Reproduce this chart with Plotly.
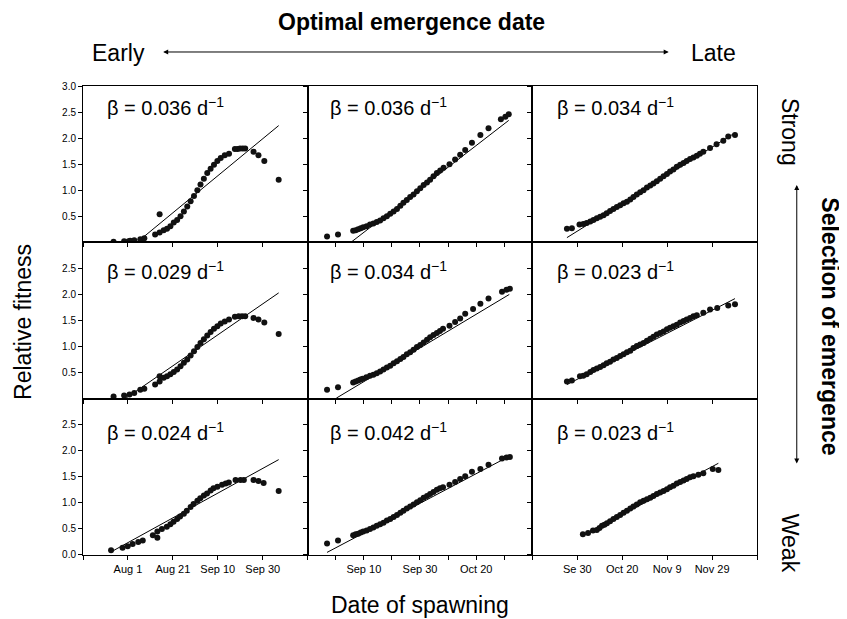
import plotly.graph_objects as go
from plotly.subplots import make_subplots

# x values are day of year (Jul 12 = 193, Aug 1 = 213, ... Dec 19 = 353)
# Row 1 = strong selection, row 3 = weak; col 1 = early, col 3 = late optimum

# ---- Early / Strong ----
x_es = [206.6, 211.3, 213.3, 214.0, 215.8, 218.5, 220.3, 225.1, 227.1, 227.1, 228.9, 230.4,
        231.9, 233.4, 234.9, 236.4, 237.9, 239.4, 240.9, 242.4, 243.9, 245.3, 246.8, 248.3,
        249.8, 251.3, 252.8, 254.3, 256.1, 258.0, 260.6, 261.8, 262.9, 264.1, 265.2,
        268.9, 271.1, 273.7, 280.1]
y_es = [0.01, 0.02, 0.02, 0.03, 0.04, 0.06, 0.08, 0.15, 0.54, 0.19, 0.23, 0.26,
        0.31, 0.38, 0.43, 0.50, 0.59, 0.69, 0.79, 0.89, 1.00, 1.11, 1.22, 1.33,
        1.41, 1.49, 1.56, 1.62, 1.67, 1.70, 1.79, 1.79, 1.80, 1.80, 1.80,
        1.74, 1.67, 1.56, 1.20]
line_es_x = [219.3, 280.1]
line_es_y = [0.08, 2.24]

# ---- Early / Medium ----
x_em = [206.6, 211.3, 213.7, 215.8, 218.5, 220.3, 225.1, 227.1, 227.1, 228.9, 230.4, 231.9,
        233.4, 234.9, 236.4, 237.9, 239.4, 240.9, 242.4, 243.9, 245.3, 246.8, 248.3, 249.8,
        251.3, 252.8, 254.3, 256.1, 258.0, 260.6, 262.3, 263.8, 265.2, 268.9, 271.1, 273.7, 280.1]
y_em = [0.04, 0.06, 0.08, 0.11, 0.17, 0.19, 0.27, 0.33, 0.43, 0.40, 0.43, 0.47,
        0.51, 0.56, 0.62, 0.69, 0.75, 0.83, 0.91, 0.99, 1.07, 1.14, 1.21, 1.28,
        1.34, 1.39, 1.44, 1.48, 1.52, 1.57, 1.58, 1.58, 1.58, 1.55, 1.52, 1.46, 1.24]
line_em_x = [211.8, 280.1]
line_em_y = [0.0, 2.03]

# ---- Early / Weak ----
x_ew = [205.5, 210.6, 212.9, 215.1, 217.6, 219.6, 224.1, 226.1, 226.1, 228.1, 230.3, 231.9,
        233.3, 234.9, 236.2, 237.9, 239.2, 240.9, 242.2, 243.9, 245.2, 246.8, 248.2, 249.8,
        251.1, 252.8, 254.9, 256.5, 257.9, 260.9, 263.1, 264.6, 268.9, 271.1, 273.4, 280.1]
y_ew = [0.09, 0.14, 0.17, 0.21, 0.25, 0.28, 0.38, 0.45, 0.33, 0.50, 0.54, 0.59,
        0.64, 0.69, 0.74, 0.79, 0.85, 0.92, 0.98, 1.04, 1.09, 1.14, 1.18, 1.24,
        1.28, 1.31, 1.35, 1.37, 1.39, 1.44, 1.44, 1.44, 1.44, 1.42, 1.38, 1.23]
line_ew_x = [205.5, 280.1]
line_ew_y = [0.06, 1.83]

# ---- Mid / Strong ----
x_ms = [239.9, 243.8, 249.2, 250.1, 251.0, 251.9, 252.8, 254.0, 255.2, 256.4,
        257.6, 258.8, 260.0, 261.2, 262.4, 263.6, 264.8, 266.0, 267.1, 268.3,
        269.5, 270.7, 271.9, 273.1, 274.3, 275.5, 276.6, 277.8, 279.0, 280.2,
        281.4, 283.5, 285.5, 287.3, 289.1, 291.5, 294.5, 297.4, 301.8, 303.4, 304.6]
y_ms = [0.11, 0.15, 0.22, 0.23, 0.25, 0.27, 0.29, 0.31, 0.34, 0.36,
        0.39, 0.42, 0.46, 0.50, 0.55, 0.59, 0.64, 0.70, 0.76, 0.81,
        0.87, 0.92, 0.98, 1.04, 1.10, 1.15, 1.20, 1.27, 1.33, 1.38,
        1.43, 1.50, 1.59, 1.68, 1.77, 1.91, 2.06, 2.19, 2.36, 2.41, 2.46]
line_ms_x = [248.4, 304.6]
line_ms_y = [0.0, 2.34]

# ---- Mid / Medium ----
x_mm = [239.9, 243.8, 249.2, 250.1, 251.0, 251.8, 252.6, 253.9, 255.2, 256.4,
        257.6, 258.8, 260.0, 261.2, 262.4, 263.6, 264.8, 266.0, 267.1, 268.3,
        269.5, 270.7, 271.9, 273.1, 274.3, 275.5, 276.6, 277.8, 279.0, 280.1,
        281.2, 283.5, 285.5, 287.3, 289.1, 291.9, 294.5, 297.4, 302.2, 303.8, 305.0]
y_mm = [0.17, 0.22, 0.31, 0.33, 0.35, 0.37, 0.38, 0.41, 0.44, 0.46,
        0.49, 0.52, 0.56, 0.60, 0.63, 0.68, 0.72, 0.76, 0.80, 0.85,
        0.89, 0.94, 0.99, 1.03, 1.08, 1.13, 1.18, 1.22, 1.26, 1.30,
        1.34, 1.40, 1.47, 1.54, 1.63, 1.72, 1.82, 1.92, 2.05, 2.09, 2.11]
line_mm_x = [243.2, 304.8]
line_mm_y = [0.01, 2.00]

# ---- Mid / Weak ----
x_mw = [239.9, 243.8, 249.2, 250.1, 251.0, 251.9, 252.8, 254.0, 255.2, 256.4,
        257.6, 258.8, 260.0, 261.2, 262.4, 263.6, 264.8, 266.0, 267.1, 268.3,
        269.5, 270.7, 271.9, 273.1, 274.3, 275.5, 276.6, 277.8, 279.0, 280.1,
        281.2, 283.5, 285.5, 287.3, 289.1, 291.5, 294.5, 297.4, 302.2, 303.8, 305.0]
y_mw = [0.22, 0.28, 0.38, 0.40, 0.41, 0.43, 0.45, 0.47, 0.50, 0.53,
        0.56, 0.59, 0.62, 0.66, 0.69, 0.73, 0.77, 0.81, 0.85, 0.89,
        0.93, 0.97, 1.01, 1.05, 1.10, 1.13, 1.17, 1.21, 1.25, 1.28,
        1.30, 1.35, 1.40, 1.46, 1.51, 1.60, 1.65, 1.73, 1.85, 1.87, 1.88]
line_mw_x = [239.9, 304.6]
line_mw_y = [0.05, 1.89]

# ---- Late / Strong ----
x_ls = [268.4, 270.6, 274.0, 275.7, 277.2, 278.8, 280.2, 281.7, 283.2, 284.7,
        286.1, 287.6, 289.1, 290.6, 292.1, 293.6, 295.1, 296.6, 298.0, 299.5,
        301.0, 302.5, 304.0, 305.5, 306.9, 308.4, 309.9, 311.4, 312.9, 314.3,
        315.8, 317.3, 318.8, 320.3, 321.7, 323.2, 324.7, 326.2, 327.6, 329.1,
        332.1, 335.0, 338.0, 340.2, 343.2]
y_ls = [0.26, 0.27, 0.34, 0.35, 0.37, 0.40, 0.43, 0.46, 0.49, 0.52,
        0.56, 0.60, 0.64, 0.68, 0.71, 0.75, 0.78, 0.82, 0.87, 0.92,
        0.96, 1.00, 1.05, 1.09, 1.13, 1.17, 1.22, 1.27, 1.31, 1.36,
        1.40, 1.45, 1.49, 1.52, 1.56, 1.60, 1.63, 1.66, 1.70, 1.74,
        1.81, 1.88, 1.95, 2.03, 2.06]
line_ls_x = [268.4, 343.2]
line_ls_y = [0.09, 2.10]

# ---- Late / Medium ----
x_lm = [268.4, 270.6, 274.2, 275.7, 277.2, 278.8, 280.2, 281.7, 283.2, 284.7,
        286.1, 287.6, 289.1, 290.6, 292.1, 293.6, 295.1, 296.6, 298.0, 299.5,
        301.0, 302.5, 304.0, 305.5, 306.9, 308.4, 309.9, 311.4, 312.9, 314.3,
        315.8, 317.3, 318.8, 320.3, 321.7, 323.2, 324.7, 326.2, 329.1, 332.1,
        335.3, 340.2, 343.2]
y_lm = [0.33, 0.35, 0.43, 0.44, 0.47, 0.51, 0.55, 0.58, 0.61, 0.64,
        0.68, 0.71, 0.75, 0.78, 0.82, 0.85, 0.89, 0.92, 0.97, 1.01,
        1.04, 1.07, 1.11, 1.15, 1.19, 1.23, 1.26, 1.29, 1.33, 1.36,
        1.39, 1.42, 1.46, 1.49, 1.52, 1.55, 1.58, 1.60, 1.65, 1.71,
        1.74, 1.79, 1.81]
line_lm_x = [268.4, 343.2]
line_lm_y = [0.27, 1.92]

# ---- Late / Weak ----
x_lw = [275.5, 277.8, 280.0, 281.7, 282.9, 284.0, 285.1, 286.2, 287.6, 289.1,
        290.6, 292.1, 293.6, 295.1, 296.6, 298.0, 299.5, 301.0, 302.5, 304.0,
        305.5, 306.9, 308.4, 309.9, 311.4, 312.9, 314.3, 315.8, 317.3, 318.8,
        320.3, 321.7, 323.2, 324.7, 326.9, 329.1, 333.3, 335.8]
y_lw = [0.40, 0.42, 0.47, 0.48, 0.52, 0.56, 0.58, 0.61, 0.65, 0.69,
        0.73, 0.77, 0.81, 0.85, 0.89, 0.93, 0.97, 1.01, 1.04, 1.07,
        1.10, 1.13, 1.17, 1.20, 1.23, 1.26, 1.30, 1.33, 1.37, 1.40,
        1.43, 1.46, 1.49, 1.51, 1.54, 1.57, 1.65, 1.63]
line_lw_x = [275.5, 335.8]
line_lw_y = [0.37, 1.76]

beta_labels = [["0.036", "0.036", "0.034"],
               ["0.029", "0.034", "0.023"],
               ["0.024", "0.042", "0.023"]]

panel_data = [
    [(x_es, y_es, line_es_x, line_es_y), (x_ms, y_ms, line_ms_x, line_ms_y), (x_ls, y_ls, line_ls_x, line_ls_y)],
    [(x_em, y_em, line_em_x, line_em_y), (x_mm, y_mm, line_mm_x, line_mm_y), (x_lm, y_lm, line_lm_x, line_lm_y)],
    [(x_ew, y_ew, line_ew_x, line_ew_y), (x_mw, y_mw, line_mw_x, line_mw_y), (x_lw, y_lw, line_lw_x, line_lw_y)],
]

# x axis ticks per column
col_ranges = [[193, 293], [233, 313], [253, 353]]
col_tickvals = [[193, 213, 233, 253, 273, 293],
                [233, 243, 253, 263, 273, 283, 293, 303, 313],
                [253, 273, 293, 313, 333, 353]]
col_ticktext = [["", "Aug 1", "Aug 21", "Sep 10", "Sep 30", ""],
                ["", "", "Sep 10", "", "Sep 30", "", "Oct 20", "", ""],
                ["", "Se 30", "Oct 20", "Nov 9", "Nov 29", ""]]
# y axis ticks per row
row_tickvals = [[0.5, 1.0, 1.5, 2.0, 2.5, 3.0],
                [0.5, 1.0, 1.5, 2.0, 2.5],
                [0.0, 0.5, 1.0, 1.5, 2.0, 2.5]]
row_ticktext = [["0.5", "1.0", "1.5", "2.0", "2.5", "3.0"],
                ["0.5", "1.0", "1.5", "2.0", "2.5"],
                ["0.0", "0.5", "1.0", "1.5", "2.0", "2.5"]]

FONT = "Liberation Sans, Arial, Helvetica, sans-serif"

fig = make_subplots(rows=3, cols=3, horizontal_spacing=0, vertical_spacing=0)

for r in range(3):
    for c in range(3):
        xs, ys, lx, ly = panel_data[r][c]
        fig.add_trace(go.Scatter(x=lx, y=ly, mode="lines",
                                 line=dict(color="black", width=1), showlegend=False,
                                 hoverinfo="skip"), row=r + 1, col=c + 1)
        fig.add_trace(go.Scatter(x=xs, y=ys, mode="markers",
                                 marker=dict(color="#111111", size=6, line=dict(width=0)),
                                 showlegend=False), row=r + 1, col=c + 1)
        fig.update_xaxes(range=col_ranges[c], tickmode="array", tickvals=col_tickvals[c],
                         ticktext=col_ticktext[c], showticklabels=(r == 2),
                         ticks="outside", ticklen=4, tickcolor="black", tickwidth=1,
                         showline=True, linecolor="black", linewidth=1, mirror=True,
                         showgrid=False, zeroline=False,
                         tickfont=dict(family=FONT, size=11, color="black"),
                         row=r + 1, col=c + 1)
        fig.update_yaxes(range=[0, 3], tickmode="array", tickvals=row_tickvals[r],
                         ticktext=row_ticktext[r], showticklabels=(c == 0),
                         ticks="outside", ticklen=4, tickcolor="black", tickwidth=1,
                         showline=True, linecolor="black", linewidth=1, mirror=True,
                         showgrid=False, zeroline=False,
                         tickfont=dict(family=FONT, size=10, color="black"),
                         row=r + 1, col=c + 1)

# beta annotations
beta_x = [0.10, 0.09, 0.10]
beta_y = [0.87, 0.82, 0.79]
idx = 0
for r in range(3):
    for c in range(3):
        idx += 1
        suffix = "" if idx == 1 else str(idx)
        fig.add_annotation(xref=f"x{suffix} domain", yref=f"y{suffix} domain",
                           x=beta_x[c], y=beta_y[r], xanchor="left", yanchor="middle",
                           text=f"β = {beta_labels[r][c]} d<sup>−1</sup>",
                           showarrow=False, font=dict(family=FONT, size=20, color="black"))

big = dict(family=FONT, size=23, color="black")

fig.add_annotation(xref="paper", yref="paper", x=0.488, y=1.136, text="<b>Optimal emergence date</b>",
                   showarrow=False, font=big, xanchor="center", yanchor="middle")
fig.add_annotation(xref="paper", yref="paper", x=0.053, y=1.07, text="Early",
                   showarrow=False, font=big, xanchor="center", yanchor="middle")
fig.add_annotation(xref="paper", yref="paper", x=0.935, y=1.07, text="Late",
                   showarrow=False, font=big, xanchor="center", yanchor="middle")
fig.add_annotation(xref="paper", yref="paper", x=0.869, y=1.0725, ax=-507, ay=0, text="",
                   showarrow=True, arrowhead=2, arrowsize=1, arrowwidth=1, arrowcolor="black",
                   arrowside="end+start")

fig.add_annotation(xref="paper", yref="paper", x=-0.089, y=0.497, text="Relative fitness",
                   textangle=-90, showarrow=False, font=big, xanchor="center", yanchor="middle")
fig.add_annotation(xref="paper", yref="paper", x=0.5, y=-0.107, text="Date of spawning",
                   showarrow=False, font=big, xanchor="center", yanchor="middle")

fig.add_annotation(xref="paper", yref="paper", x=1.049, y=0.902, text="Strong",
                   textangle=90, showarrow=False, font=big, xanchor="center", yanchor="middle")
fig.add_annotation(xref="paper", yref="paper", x=1.049, y=0.026, text="Weak",
                   textangle=90, showarrow=False, font=big, xanchor="center", yanchor="middle")
fig.add_annotation(xref="paper", yref="paper", x=1.059, y=0.789, ax=0, ay=280, text="",
                   showarrow=True, arrowhead=2, arrowsize=1, arrowwidth=1, arrowcolor="black",
                   arrowside="end+start")
fig.add_annotation(xref="paper", yref="paper", x=1.108, y=0.488, text="<b>Selection of emergence</b>",
                   textangle=90, showarrow=False, font=big, xanchor="center", yanchor="middle")

# the page body adds an 8 px offset, so the figure is 8 px smaller and margins shifted
fig.update_layout(width=839, height=611, margin=dict(l=75, r=90, t=78, b=64),
                  plot_bgcolor="white", paper_bgcolor="white",
                  font=dict(family=FONT, color="black"))

fig.write_html("out.html")
